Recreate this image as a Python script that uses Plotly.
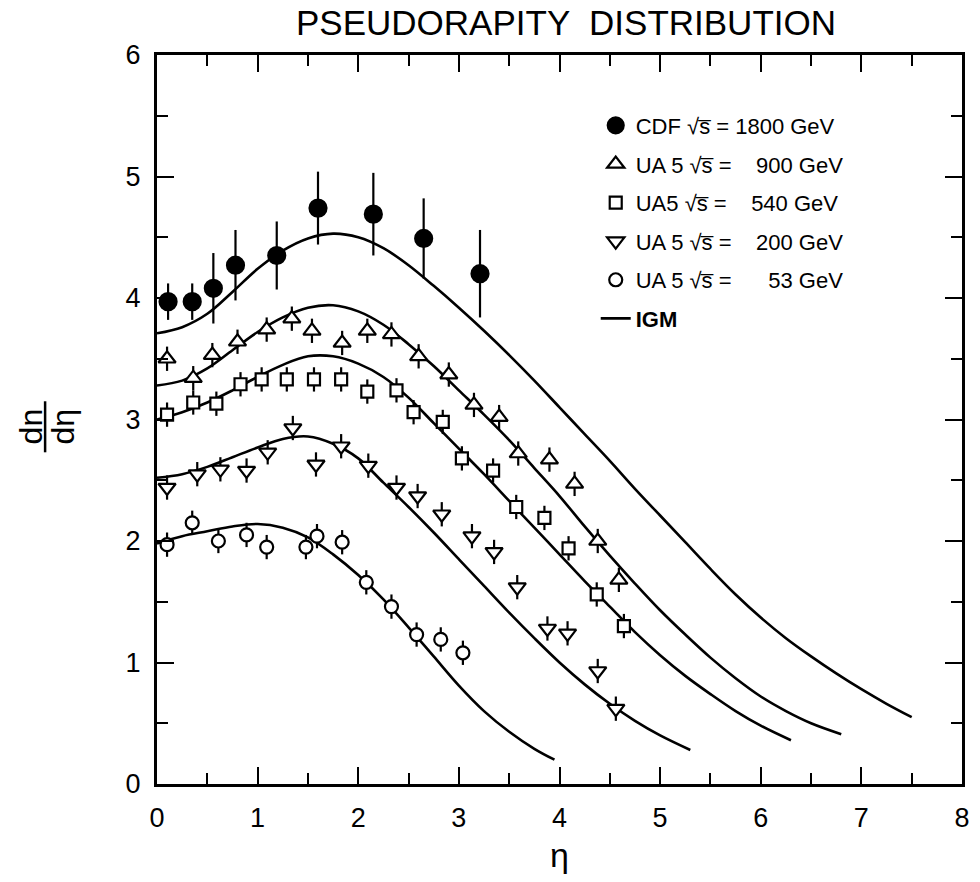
import plotly.graph_objects as go

# ---------------- data ----------------
cdf_eta = [0.11, 0.35, 0.56, 0.78, 1.19, 1.60, 2.15, 2.65, 3.21]
cdf_val = [3.97, 3.97, 4.08, 4.27, 4.35, 4.74, 4.69, 4.49, 4.20]
cdf_err = [0.15, 0.15, 0.29, 0.29, 0.28, 0.30, 0.34, 0.33, 0.36]

ua900_eta = [0.10, 0.36, 0.55, 0.80, 1.09, 1.34, 1.54, 1.84, 2.09, 2.33, 2.60, 2.90, 3.15, 3.40, 3.59, 3.90, 4.15, 4.38, 4.59]
ua900_val = [3.50, 3.34, 3.53, 3.64, 3.74, 3.83, 3.73, 3.63, 3.73, 3.70, 3.52, 3.37, 3.12, 3.02, 2.72, 2.67, 2.47, 2.00, 1.68]

ua540_eta = [0.10, 0.36, 0.59, 0.83, 1.04, 1.29, 1.56, 1.83, 2.09, 2.38, 2.55, 2.84, 3.03, 3.34, 3.57, 3.85, 4.09, 4.37, 4.64]
ua540_val = [3.04, 3.14, 3.13, 3.29, 3.33, 3.33, 3.33, 3.33, 3.23, 3.24, 3.06, 2.98, 2.68, 2.58, 2.28, 2.19, 1.94, 1.56, 1.30]

ua200_eta = [0.10, 0.40, 0.63, 0.89, 1.10, 1.35, 1.58, 1.83, 2.10, 2.38, 2.59, 2.83, 3.13, 3.35, 3.58, 3.88, 4.08, 4.38, 4.56]
ua200_val = [2.44, 2.55, 2.59, 2.58, 2.73, 2.93, 2.63, 2.78, 2.62, 2.44, 2.37, 2.22, 2.04, 1.91, 1.62, 1.28, 1.24, 0.93, 0.62]

ua53_eta = [0.10, 0.35, 0.61, 0.89, 1.09, 1.48, 1.59, 1.84, 2.08, 2.33, 2.58, 2.82, 3.04]
ua53_val = [1.97, 2.15, 2.00, 2.05, 1.95, 1.95, 2.04, 1.99, 1.66, 1.46, 1.23, 1.19, 1.08]

ua_err = 0.10  # small symmetric errors on UA5 points

igm1800_eta = [0, 0.25, 0.5, 0.75, 1, 1.25, 1.5, 1.75, 2, 2.25, 2.5, 2.75, 3, 3.25, 3.5, 3.75, 4,
               4.25, 4.5, 4.75, 5, 5.25, 5.5, 5.75, 6, 6.25, 6.5, 6.75, 7, 7.25, 7.5]
igm1800_val = [3.71, 3.76, 3.87, 4.05, 4.24, 4.39, 4.49, 4.53, 4.50, 4.41, 4.27, 4.10, 3.92, 3.73, 3.53, 3.32, 3.10,
               2.88, 2.66, 2.43, 2.21, 1.99, 1.77, 1.56, 1.37, 1.20, 1.05, 0.91, 0.78, 0.66, 0.55]

igm900_eta = [0, 0.25, 0.5, 0.75, 1, 1.25, 1.5, 1.75, 2, 2.25, 2.5, 2.75, 3, 3.25, 3.5, 3.75, 4,
              4.25, 4.5, 4.75, 5, 5.25, 5.5, 5.75, 6, 6.25, 6.5, 6.8]
igm900_val = [3.28, 3.32, 3.42, 3.57, 3.72, 3.84, 3.92, 3.94, 3.89, 3.78, 3.62, 3.44, 3.24, 3.04, 2.83, 2.60, 2.37,
              2.12, 1.88, 1.65, 1.43, 1.23, 1.04, 0.87, 0.72, 0.60, 0.50, 0.41]

igm540_eta = [0, 0.25, 0.5, 0.75, 1, 1.25, 1.5, 1.75, 2, 2.25, 2.5, 2.75, 3, 3.25, 3.5, 3.75, 4,
              4.25, 4.5, 4.75, 5, 5.25, 5.5, 5.75, 6, 6.3]
igm540_val = [3.00, 3.06, 3.14, 3.24, 3.35, 3.45, 3.52, 3.52, 3.46, 3.35, 3.18, 2.97, 2.76, 2.55, 2.33, 2.11, 1.89,
              1.67, 1.46, 1.25, 1.06, 0.89, 0.74, 0.60, 0.48, 0.36]

igm200_eta = [0, 0.25, 0.5, 0.75, 1, 1.25, 1.5, 1.75, 2, 2.25, 2.5, 2.75, 3, 3.25, 3.5, 3.75, 4,
              4.25, 4.5, 4.75, 5, 5.3]
igm200_val = [2.52, 2.55, 2.61, 2.69, 2.77, 2.84, 2.86, 2.80, 2.68, 2.48, 2.28, 2.07, 1.85, 1.63, 1.41, 1.20, 1.00,
              0.82, 0.66, 0.52, 0.40, 0.28]

igm53_eta = [0, 0.25, 0.5, 0.75, 1, 1.25, 1.5, 1.75, 2, 2.25, 2.5, 2.75, 3, 3.25, 3.5, 3.75, 3.95]
igm53_val = [1.98, 2.04, 2.08, 2.12, 2.14, 2.11, 2.03, 1.89, 1.72, 1.52, 1.29, 1.05, 0.81, 0.60, 0.43, 0.29, 0.20]

x_ticks = [0, 1, 2, 3, 4, 5, 6, 7, 8]
y_ticks = [0, 1, 2, 3, 4, 5, 6]

SQ = "√s\u0305"
labels = [
    f"CDF {SQ} = 1800 GeV",
    f"UA 5 {SQ} =  \u2007900 GeV",
    f"UA5 {SQ} =  \u2007540 GeV",
    f"UA 5 {SQ} =  \u2007200 GeV",
    f"UA 5 {SQ} =  \u2007\u200753 GeV",
    "<b>IGM</b>",
]

FONT = "Liberation Sans, Arial, sans-serif"
fig = go.Figure()

def add_points(x, y, err, symbol, size, filled, name, rank):
    fig.add_trace(go.Scatter(
        x=x, y=y, mode="markers", name=name, legendrank=rank, legendgroup=name,
        marker=dict(symbol=symbol, size=size,
                    color="black" if filled else "white",
                    line=dict(color="black", width=2.2)),
        error_y=dict(type="data", array=err if isinstance(err, list) else [err] * len(x),
                     thickness=2.2, width=0, color="black"),
    ))

# curves first so markers sit on top
curves = [(igm1800_eta, igm1800_val), (igm900_eta, igm900_val), (igm540_eta, igm540_val),
          (igm200_eta, igm200_val), (igm53_eta, igm53_val)]
for i, (cx, cy) in enumerate(curves):
    fig.add_trace(go.Scatter(
        x=cx, y=cy, mode="lines", name=labels[5], legendrank=6, legendgroup="igm",
        showlegend=(i == 0),
        line=dict(color="black", width=2.6, shape="spline", smoothing=1.0),
    ))

add_points(cdf_eta, cdf_val, cdf_err, "circle", 17, True, labels[0], 1)
add_points(ua900_eta, ua900_val, ua_err, "triangle-up", 15, False, labels[1], 2)
add_points(ua540_eta, ua540_val, ua_err, "square", 12, False, labels[2], 3)
add_points(ua200_eta, ua200_val, ua_err, "triangle-down", 15, False, labels[3], 4)
add_points(ua53_eta, ua53_val, ua_err, "circle", 13, False, labels[4], 5)

axis_common = dict(
    showline=True, linewidth=3, linecolor="black", mirror="ticks",
    ticks="inside", ticklen=17, tickwidth=2, tickcolor="black",
    showgrid=False, zeroline=False,
    tickfont=dict(family=FONT, size=27, color="black"),
    minor=dict(ticks="inside", ticklen=11, tickwidth=2, tickcolor="black", dtick=0.5, showgrid=False),
)

fig.update_layout(
    width=980, height=882,
    margin=dict(l=157, r=10, t=55, b=98),
    paper_bgcolor="white", plot_bgcolor="white",
    showlegend=True,
    legend=dict(x=0.545, y=0.932, xanchor="left", yanchor="top",
                font=dict(family=FONT, size=22, color="black"),
                bgcolor="rgba(0,0,0,0)", tracegroupgap=7, itemwidth=30),
    xaxis=dict(range=[0, 8], tickvals=x_ticks, ticktext=[str(v) for v in x_ticks],
               ticklabelstandoff=8, **axis_common),
    yaxis=dict(range=[0, 6], tickvals=y_ticks, ticktext=[str(v) for v in y_ticks],
               ticklabelstandoff=8, **axis_common),
)

ann_font = dict(family=FONT, color="black")
fig.add_annotation(text="PSEUDORAPITY  DISTRIBUTION", xref="paper", yref="paper",
                   x=0.508, y=1.045, xanchor="center", yanchor="middle",
                   showarrow=False, font=dict(size=35, **ann_font))
fig.add_annotation(text="η", xref="paper", yref="paper", x=0.5, y=-0.098,
                   xanchor="center", yanchor="middle", showarrow=False,
                   font=dict(size=34, **ann_font))
fig.add_annotation(text="dn", xref="paper", yref="paper", x=-0.157, y=0.49,
                   xanchor="center", yanchor="middle", textangle=-90, showarrow=False,
                   font=dict(size=32, **ann_font))
fig.add_annotation(text="dη", xref="paper", yref="paper", x=-0.117, y=0.49,
                   xanchor="center", yanchor="middle", textangle=-90, showarrow=False,
                   font=dict(size=32, **ann_font))
fig.add_shape(type="line", xref="paper", yref="paper", x0=-0.139, x1=-0.139,
              y0=0.455, y1=0.525, line=dict(color="black", width=2.5))

fig.write_html("out.html")
